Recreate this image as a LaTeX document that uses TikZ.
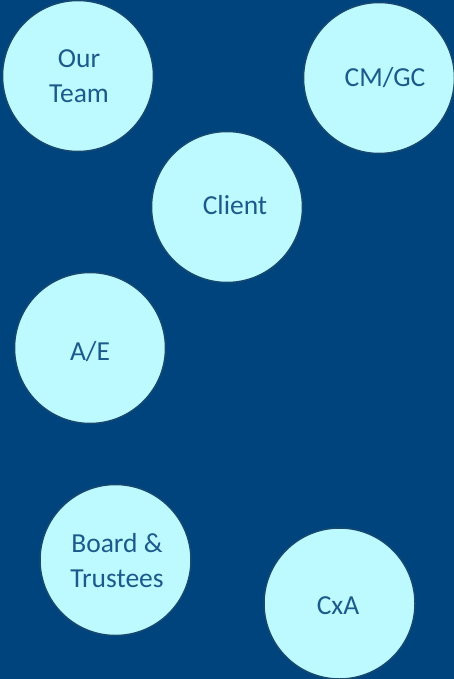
\documentclass[tikz,border=0pt]{standalone}
\usepackage{fontspec}
\setmainfont{Carlito}
\definecolor{bg}{RGB}{0,68,126}
\definecolor{disc}{RGB}{189,250,255}
\definecolor{rim}{RGB}{22,72,112}
\definecolor{ink}{RGB}{28,90,140}
\begin{document}
\begin{tikzpicture}[x=1pt,y=-1pt,
  disk/.style={circle,draw=rim,line width=1.5pt,fill=disc,minimum size=151pt,inner sep=0pt},
  lbl/.style={text=ink,align=center,font=\fontsize{27.5}{35}\selectfont,inner sep=0pt}]
\fill[bg] (0,0) rectangle (454,679);
\useasboundingbox (0,0) rectangle (454,679);
\node[disk] (team) at (78,76) {};
\node[disk] (cmgc) at (379,78) {};
\node[disk] (client) at (227,207) {};
\node[disk] (ae) at (90,348) {};
\node[disk] (board) at (115.5,560) {};
\node[disk] (cxa) at (339.5,603.5) {};
\node[lbl] (teamt) at (79,76) {Our\\Team};
\node[lbl] (cmgct) at (385,78) {CM/GC};
\node[lbl] (clientt) at (235,205) {Client};
\node[lbl] (aet) at (90,352) {A/E};
\node[lbl] (boardt) at (117,561) {Board \&\\Trustees};
\node[lbl] (cxat) at (338,606) {CxA};
\end{tikzpicture}
\end{document}
